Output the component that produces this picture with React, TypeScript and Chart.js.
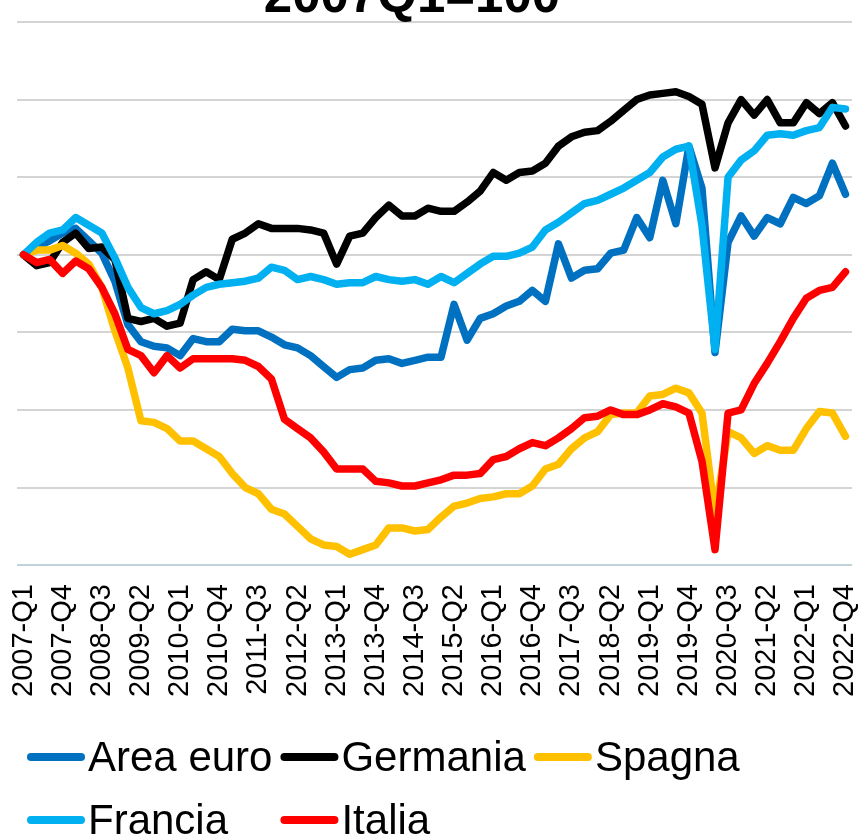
import { useEffect, useRef } from "react";
import { Chart, registerables } from "chart.js";

Chart.register(...registerables);

const CATEGORIES = [
  "2007-Q1", "2007-Q2", "2007-Q3", "2007-Q4",
  "2008-Q1", "2008-Q2", "2008-Q3", "2008-Q4",
  "2009-Q1", "2009-Q2", "2009-Q3", "2009-Q4",
  "2010-Q1", "2010-Q2", "2010-Q3", "2010-Q4",
  "2011-Q1", "2011-Q2", "2011-Q3", "2011-Q4",
  "2012-Q1", "2012-Q2", "2012-Q3", "2012-Q4",
  "2013-Q1", "2013-Q2", "2013-Q3", "2013-Q4",
  "2014-Q1", "2014-Q2", "2014-Q3", "2014-Q4",
  "2015-Q1", "2015-Q2", "2015-Q3", "2015-Q4",
  "2016-Q1", "2016-Q2", "2016-Q3", "2016-Q4",
  "2017-Q1", "2017-Q2", "2017-Q3", "2017-Q4",
  "2018-Q1", "2018-Q2", "2018-Q3", "2018-Q4",
  "2019-Q1", "2019-Q2", "2019-Q3", "2019-Q4",
  "2020-Q1", "2020-Q2", "2020-Q3", "2020-Q4",
  "2021-Q1", "2021-Q2", "2021-Q3", "2021-Q4",
  "2022-Q1", "2022-Q2", "2022-Q3", "2022-Q4",
];

const TICK_LABELS = [
  "2007-Q1", "2007-Q4", "2008-Q3", "2009-Q2", "2010-Q1", "2010-Q4",
  "2011-Q3", "2012-Q2", "2013-Q1", "2013-Q4", "2014-Q3", "2015-Q2",
  "2016-Q1", "2016-Q4", "2017-Q3", "2018-Q2", "2019-Q1", "2019-Q4",
  "2020-Q3", "2021-Q2", "2022-Q1", "2022-Q4",
];

const AREA_EURO = [
  100.0, 100.5, 100.9, 101.4, 101.7, 100.9, 100.1, 98.3,
  95.5, 94.4, 94.1, 94.0, 93.5, 94.6, 94.4, 94.4,
  95.2, 95.1, 95.1, 94.7, 94.2, 94.0, 93.5, 92.8,
  92.1, 92.6, 92.7, 93.2, 93.3, 93.0, 93.2, 93.4,
  93.4, 96.8, 94.5, 95.9, 96.2, 96.7, 97.0, 97.7,
  97.0, 100.7, 98.5, 99.0, 99.1, 100.1, 100.3, 102.4,
  101.1, 104.8, 102.0, 107.0, 104.3, 93.7, 100.8, 102.5,
  101.2, 102.4, 102.0, 103.7, 103.3, 103.8, 105.9, 103.9,
];

const GERMANIA = [
  100.0, 99.3, 99.5, 100.8, 101.4, 100.4, 100.5, 99.7,
  95.9, 95.7, 95.9, 95.4, 95.6, 98.4, 98.9, 98.4,
  101.0, 101.4, 102.0, 101.7, 101.7, 101.7, 101.6, 101.4,
  99.4, 101.2, 101.4, 102.4, 103.2, 102.5, 102.5, 103.0,
  102.8, 102.8, 103.4, 104.1, 105.3, 104.8, 105.3, 105.4,
  105.9, 107.0, 107.6, 107.9, 108.0, 108.6, 109.3, 110.0,
  110.3, 110.4, 110.5, 110.2, 109.7, 105.6, 108.5, 110.0,
  109.0, 110.0, 108.5, 108.5, 109.8, 109.1, 109.8, 108.3,
];

const SPAGNA = [
  100.0, 100.3, 100.3, 100.6, 100.1, 99.4, 97.9, 95.1,
  92.7, 89.3, 89.2, 88.8, 88.0, 88.0, 87.5, 87.0,
  85.9, 85.0, 84.6, 83.6, 83.3, 82.5, 81.7, 81.3,
  81.2, 80.7, 81.0, 81.3, 82.4, 82.4, 82.2, 82.3,
  83.1, 83.8, 84.0, 84.3, 84.4, 84.6, 84.6, 85.1,
  86.2, 86.5, 87.5, 88.2, 88.6, 89.7, 89.8, 89.8,
  90.9, 91.0, 91.4, 91.1, 89.8, 83.3, 88.6, 88.2,
  87.2, 87.7, 87.4, 87.4, 88.8, 89.9, 89.8, 88.3,
];

const FRANCIA = [
  100.0, 100.8, 101.4, 101.6, 102.4, 101.9, 101.4, 99.8,
  97.9, 96.6, 96.2, 96.4, 96.8, 97.4, 97.9, 98.1,
  98.2, 98.3, 98.5, 99.2, 99.0, 98.4, 98.6, 98.4,
  98.1, 98.2, 98.2, 98.6, 98.4, 98.3, 98.4, 98.1,
  98.6, 98.2, 98.8, 99.4, 99.9, 99.9, 100.1, 100.5,
  101.6, 102.1, 102.7, 103.3, 103.5, 103.9, 104.3, 104.8,
  105.3, 106.3, 106.8, 107.0, 101.9, 93.9, 105.0, 106.1,
  106.7, 107.7, 107.8, 107.7, 108.0, 108.2, 109.5, 109.4,
];

const ITALIA = [
  100.0, 99.5, 99.7, 98.8, 99.6, 99.1, 97.9, 96.2,
  93.9, 93.5, 92.4, 93.5, 92.7, 93.3, 93.3, 93.3,
  93.3, 93.2, 92.8, 92.0, 89.4, 88.8, 88.2, 87.3,
  86.2, 86.2, 86.2, 85.4, 85.3, 85.1, 85.1, 85.3,
  85.5, 85.8, 85.8, 85.9, 86.8, 87.0, 87.5, 87.9,
  87.7, 88.2, 88.8, 89.5, 89.6, 90.0, 89.7, 89.7,
  90.0, 90.4, 90.2, 89.8, 86.7, 81.0, 89.8, 90.0,
  91.7, 93.0, 94.4, 95.9, 97.2, 97.7, 97.9, 98.9,
];

const SERIES_NAMES = ["Area euro", "Germania", "Spagna", "Francia", "Italia"];
const SERIES_DATA = [AREA_EURO, GERMANIA, SPAGNA, FRANCIA, ITALIA];
const SERIES_COLORS = ["#0070C0", "#000000", "#FFC000", "#00B0F0", "#FF0000"];

const TITLE = "2007Q1=100";
const Y_MIN = 80;
const Y_MAX = 115;
const Y_STEP = 5;

const FONT = "'Liberation Sans', Arial, Helvetica, sans-serif";

const cutTitlePlugin = {
  id: "cutTitle",
  afterDraw(chart: any) {
    const ctx = chart.ctx;
    ctx.save();
    ctx.font = `bold 51px ${FONT}`;
    ctx.fillStyle = "#000000";
    ctx.textAlign = "center";
    ctx.textBaseline = "alphabetic";
    ctx.fillText(TITLE, 412, 12);
    ctx.restore();
  },
};

const gridLegendPlugin = {
  id: "gridLegend",
  afterDraw(chart: any) {
    const ctx = chart.ctx;
    const items = chart.data.datasets.map((d: any) => ({
      text: d.label as string,
      color: d.borderColor as string,
    }));
    ctx.save();
    ctx.font = `42px ${FONT}`;
    const markerW = 58;
    const gap = 3;
    const spacing = 8;
    const maxText = Math.max(...items.map((it: any) => ctx.measureText(it.text).width));
    const colW = markerW + gap + maxText + spacing;
    const cols = 3;
    const left = 27;
    const rowYs = [chart.height - 79, chart.height - 16];
    items.forEach((it: any, k: number) => {
      const c = k % cols;
      const r = Math.floor(k / cols);
      const x = left + c * colW;
      const y = rowYs[r];
      ctx.strokeStyle = it.color;
      ctx.lineWidth = 8;
      ctx.lineCap = "round";
      ctx.beginPath();
      ctx.moveTo(x + 4, y);
      ctx.lineTo(x + markerW - 4, y);
      ctx.stroke();
      ctx.fillStyle = "#000000";
      ctx.textAlign = "left";
      ctx.textBaseline = "alphabetic";
      ctx.fillText(it.text, x + markerW + gap, y + 14);
    });
    ctx.restore();
  },
};

export default function App() {
  const canvasRef = useRef<HTMLCanvasElement | null>(null);

  useEffect(() => {
    const canvas = canvasRef.current;
    if (!canvas) return;
    const chart = new Chart(canvas, {
      type: "line",
      data: {
        labels: CATEGORIES,
        datasets: SERIES_NAMES.map((name, i) => ({
          label: name,
          data: SERIES_DATA[i],
          borderColor: SERIES_COLORS[i],
          backgroundColor: SERIES_COLORS[i],
          borderWidth: 7.5,
          pointRadius: 0,
          pointHoverRadius: 0,
          tension: 0,
          fill: false,
          borderJoinStyle: "round" as const,
          borderCapStyle: "round" as const,
          order: SERIES_NAMES.length - 1 - i,
        })),
      },
      options: {
        animation: false,
        responsive: false,
        devicePixelRatio: 1,
        events: [],
        layout: { padding: { left: 17, right: 8, top: 22, bottom: 120 } },
        plugins: {
          legend: { display: false },
          title: { display: false },
          tooltip: { enabled: false },
        },
        scales: {
          x: {
            offset: true,
            grid: { display: false, drawTicks: false },
            border: { display: false },
            ticks: {
              autoSkip: false,
              maxRotation: 90,
              minRotation: 90,
              padding: 19,
              color: "#000000",
              font: { family: FONT, size: 29 },
              callback: (_v: any, i: number) =>
                TICK_LABELS.includes(CATEGORIES[i]) ? CATEGORIES[i] : "",
            },
            afterFit: (s: any) => {
              s.paddingLeft = 0;
              s.paddingRight = 0;
            },
          },
          y: {
            min: Y_MIN,
            max: Y_MAX,
            ticks: { stepSize: Y_STEP, display: false },
            grid: {
              drawTicks: false,
              lineWidth: 2,
              color: (c: any) => (c.tick && c.tick.value === Y_MIN ? "#bfd3d8" : "#d4d4d4"),
            },
            border: { display: false },
          },
        },
      },
      plugins: [cutTitlePlugin, gridLegendPlugin],
    });
    return () => chart.destroy();
  }, []);

  return (
    <div style={{ position: "fixed", left: 0, top: 0, width: 860, height: 836, background: "#ffffff" }}>
      <canvas ref={canvasRef} width={860} height={836} style={{ display: "block", width: 860, height: 836 }} />
    </div>
  );
}
